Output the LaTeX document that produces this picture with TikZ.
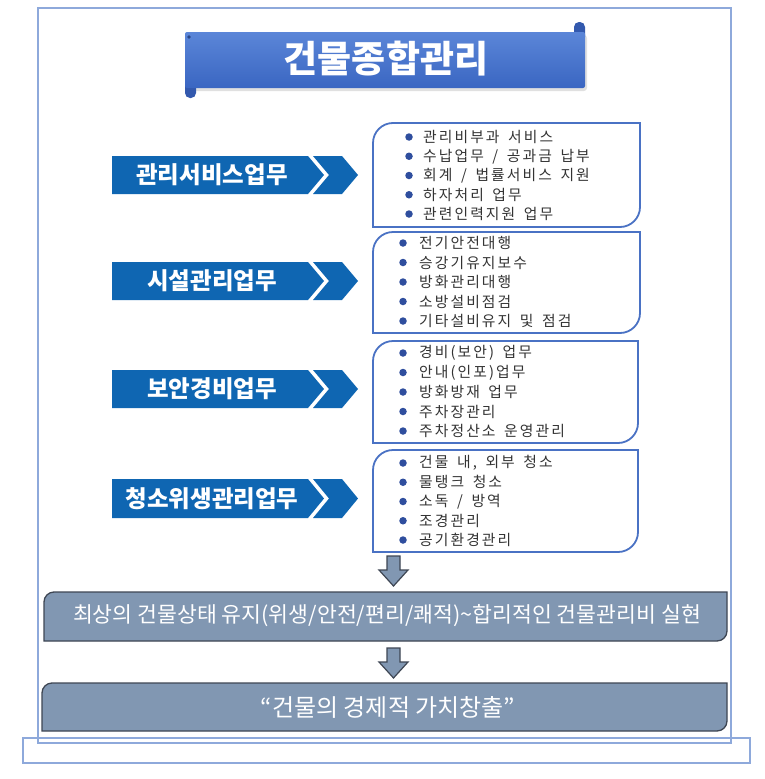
\documentclass[tikz,border=0pt]{standalone}
\usepackage{fontspec}
\setmainfont{Noto Sans CJK KR}
\newfontfamily\listfont[LetterSpace=14,WordSpace=1.6]{Noto Sans CJK KR}
\definecolor{frameblue}{HTML}{8EA9DB}
\definecolor{labelblue}{HTML}{0F66B2}
\definecolor{listborder}{HTML}{4A72C4}
\definecolor{bulletblue}{HTML}{2F4E9E}
\definecolor{listtext}{HTML}{333333}
\definecolor{barfill}{HTML}{8197B2}
\definecolor{barline}{HTML}{3E4653}
\definecolor{bantop}{HTML}{5B86D8}
\definecolor{banbot}{HTML}{3A66C2}
\definecolor{bandark}{HTML}{3359AE}
\tikzset{
  framebox/.style={draw=frameblue,line width=1.5pt},
  labelshape/.style={fill=labelblue},
  labeltext/.style={text=white,font=\fontsize{23.5}{26}\selectfont\bfseries,inner sep=0pt},
  listshape/.style={draw=listborder,line width=1.8pt,fill=white},
  listline/.style={text=listtext,font=\listfont\fontsize{14.8}{16}\selectfont,inner sep=0pt,anchor=west},
  bulletdot/.style={circle,fill=bulletblue,inner sep=0pt,minimum size=7.5pt},
  barshape/.style={draw=barline,line width=1.3pt,fill=barfill},
  bartext/.style={text=white,inner sep=0pt},
  downarrow/.style={draw=barline,line width=1.2pt,fill=barfill,line join=miter},
}
\begin{document}
\begin{tikzpicture}[x=1pt,y=-1pt]
\useasboundingbox (0,0) rectangle (764,779);
\fill[white] (0,0) rectangle (764,779);
% frames
\draw[framebox] (38,8) rectangle (731,743);
\draw[framebox] (23,738) rectangle (750,763);
% banner
\fill[black,opacity=0.12,rounded corners=3pt] (187,35) rectangle (587,91);
\fill[bandark,rounded corners=5pt] (185,78) rectangle (196,98);
\fill[bandark,rounded corners=5pt] (574,22) rectangle (585,42);
\shade[top color=bantop,bottom color=banbot,rounded corners=2pt] (185,32) rectangle (585,88);
\fill[banbot!70!black] (189,37) circle (1.8);
\node[text=white,font=\fontsize{37}{40}\selectfont\bfseries,inner sep=0pt] (title) at (386,59) {건물종합관리};
% left labels
\foreach \i/\yt/\yb/\txt in {1/156/194/관리서비스업무,2/262/300/시설관리업무,3/370/408/보안경비업무,4/479/518/청소위생관리업무}{
  \pgfmathsetmacro\ym{(\yt+\yb)/2}
  \fill[labelshape] (112,\yt) -- (308,\yt) -- (324,\ym) -- (308,\yb) -- (112,\yb) -- cycle;
  \fill[labelshape] (313,\yt) -- (342,\yt) -- (358,\ym) -- (342,\yb) -- (313,\yb) -- (329,\ym) -- cycle;
  \node[labeltext] (lab\i) at (212,\ym) {\txt};
}
% list boxes
\draw[listshape] (373,227) -- (373,143) arc (180:270:20) -- (640,123) -- (640,207) arc (0:90:20) -- cycle;
\draw[listshape] (373,333) -- (373,252) arc (180:270:20) -- (640,232) -- (640,313) arc (0:90:20) -- cycle;
\draw[listshape] (373,443) -- (373,361) arc (180:270:20) -- (638,341) -- (638,423) arc (0:90:20) -- cycle;
\draw[listshape] (373,552) -- (373,470) arc (180:270:20) -- (638,450) -- (638,532) arc (0:90:20) -- cycle;
% box lines
\foreach \k/\txt in {0/{관리비부과 서비스},1/{수납업무 / 공과금 납부},2/{회계 / 법률서비스 지원},3/{하자처리 업무},4/{관련인력지원 업무}}{
  \node[bulletdot] (ba\k) at (409,{137+19.25*\k}) {};
  \node[listline] (la\k) at (423,{137+19.25*\k}) {\txt};
}
\foreach \k/\txt in {0/{전기안전대행},1/{승강기유지보수},2/{방화관리대행},3/{소방설비점검},4/{기타설비유지 및 점검}}{
  \node[bulletdot] (bb\k) at (403,{243+19.5*\k}) {};
  \node[listline] (lb\k) at (419,{243+19.5*\k}) {\txt};
}
\foreach \k/\txt in {0/{경비(보안) 업무},1/{안내(인포)업무},2/{방화방재 업무},3/{주차장관리},4/{주차정산소 운영관리}}{
  \node[bulletdot] (bc\k) at (403,{353+19.5*\k}) {};
  \node[listline] (lc\k) at (419,{353+19.5*\k}) {\txt};
}
\foreach \k/\txt in {0/{건물 내, 외부 청소},1/{물탱크 청소},2/{소독 / 방역},3/{조경관리},4/{공기환경관리}}{
  \node[bulletdot] (bd\k) at (403,{463+19.25*\k}) {};
  \node[listline] (ld\k) at (419,{463+19.25*\k}) {\txt};
}
% down arrows
\draw[downarrow] (387,556) -- (400,556) -- (400,570) -- (408,570) -- (393.5,586) -- (379,570) -- (387,570) -- cycle;
\draw[downarrow] (387,648) -- (400,648) -- (400,662) -- (408,662) -- (393.5,678) -- (379,662) -- (387,662) -- cycle;
% bars
\draw[barshape] (44,641) -- (44,602) arc (180:270:10) -- (727,592) -- (727,631) arc (0:90:10) -- cycle;
\draw[barshape] (42,731) -- (42,693) arc (180:270:10) -- (727,683) -- (727,721) arc (0:90:10) -- cycle;
\node[bartext,font=\fontsize{21.6}{23}\selectfont] (bar1) at (387,616) {최상의 건물상태 유지(위생/안전/편리/쾌적)\textasciitilde 합리적인 건물관리비 실현};
\node[bartext,font=\fontsize{24}{26}\selectfont] (bar2) at (388,707) {“건물의 경제적 가치창출”};
\end{tikzpicture}
\end{document}
